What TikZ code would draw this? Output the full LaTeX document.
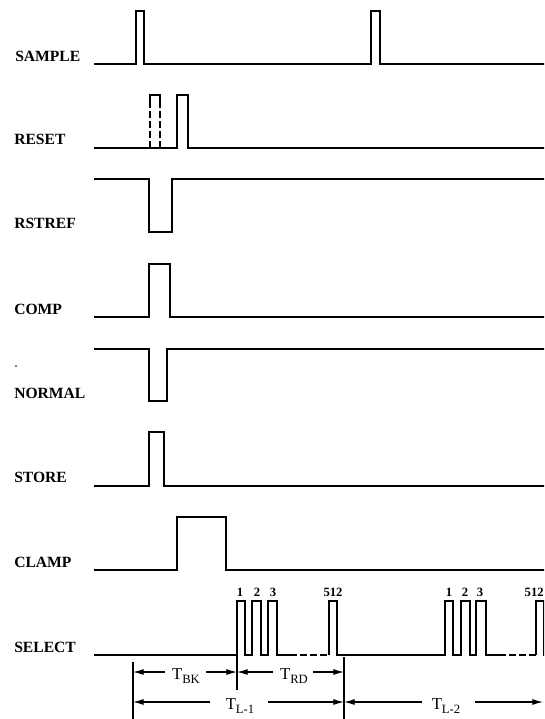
\documentclass[tikz,border=0pt]{standalone}
\usepackage{fontspec}
\setmainfont{Liberation Serif}
\usetikzlibrary{arrows.meta}
\newcommand\Tlab[2]{T\raisebox{-0.55ex}{\fontsize{9.5}{9}\selectfont #1}\ifx&#2&\else\raisebox{-0.55ex}{\fontsize{9.5}{9}\selectfont -#2}\fi}
\begin{document}
\begin{tikzpicture}[x=0.75pt,y=-0.75pt,
  wave/.style={line width=1.7pt,line join=miter,line cap=butt},
  dashwave/.style={line width=1.7pt,dash pattern=on 5pt off 2.5pt},
  lbl/.style={anchor=west,inner sep=0,font=\fontsize{11.7}{14}\selectfont\bfseries},
  num/.style={inner sep=0,font=\fontsize{9.5}{9}\selectfont\bfseries},
  dim/.style={line width=0.8pt},
  tip/.style={line width=0.9pt,-{Latex[length=8pt,width=4.5pt]}},
  tlab/.style={inner sep=0,font=\fontsize{12.5}{13}\selectfont}]
\useasboundingbox (0,0) rectangle (544,719);
\clip (0,0) rectangle (544,719);
% labels
\node[lbl] (lsample) at (15,56) {SAMPLE};
\node[lbl] (lreset)  at (14,139) {RESET};
\node[lbl] (lrstref) at (14,223) {RSTREF};
\node[lbl] (lcomp)   at (14,309) {COMP};
\node[lbl] (lnormal) at (14,393) {NORMAL};
\node[lbl] (lstore)  at (14,477) {STORE};
\node[lbl] (lclamp)  at (14,562) {CLAMP};
\node[lbl] (lselect) at (14,647) {SELECT};
\fill (16,366) circle (0.9);
% SAMPLE
\draw[wave] (94,64) -- (136,64) -- (136,11) -- (144,11) -- (144,64) -- (371,64) -- (371,11) -- (380,11) -- (380,64) -- (548,64);
% RESET
\draw[wave] (94,148) -- (177,148) -- (177,95) -- (188,95) -- (188,148) -- (548,148);
\draw[dashwave] (150,148) -- (150,97);
\draw[dashwave] (160,148) -- (160,97);
\draw[wave] (150,101) -- (150,95) -- (160,95) -- (160,101);
% RSTREF
\draw[wave] (94,179) -- (149,179) -- (149,232) -- (172,232) -- (172,179) -- (548,179);
% COMP
\draw[wave] (94,317) -- (149,317) -- (149,264) -- (170,264) -- (170,317) -- (548,317);
% NORMAL
\draw[wave] (94,349) -- (149,349) -- (149,401) -- (167,401) -- (167,349) -- (548,349);
% STORE
\draw[wave] (94,486) -- (149,486) -- (149,432) -- (164,432) -- (164,486) -- (548,486);
% CLAMP
\draw[wave] (94,570) -- (177,570) -- (177,517) -- (226,517) -- (226,570) -- (548,570);
% SELECT
\draw[wave] (94,655) -- (237,655) -- (237,601) -- (245,601) -- (245,655) -- (252,655) -- (252,601) -- (261,601) -- (261,655) -- (268,655) -- (268,601) -- (277,601) -- (277,655) -- (290,655);
\draw[dashwave] (290,655) -- (329,655);
\draw[wave] (329,655) -- (329,601) -- (337,601) -- (337,655) -- (445,655) -- (445,601) -- (453,601) -- (453,655) -- (461,655) -- (461,601) -- (470,601) -- (470,655) -- (476,655) -- (476,601) -- (486,601) -- (486,655) -- (499,655);
\draw[dashwave] (499,655) -- (536,655);
\draw[wave] (536,655) -- (536,601) -- (544,601) -- (544,655) -- (548,655);
\node[num] (n1a) at (240,592) {1};
\node[num] (n2a) at (257,592) {2};
\node[num] (n3a) at (273,592) {3};
\node[num] (n512a) at (333,592) {512};
\node[num] (n1b) at (449,592) {1};
\node[num] (n2b) at (465,592) {2};
\node[num] (n3b) at (480,592) {3};
\node[num,anchor=east] (n512b) at (544,592) {512};
% dimension lines
\coordinate (v1t) at (133,662); \coordinate (v1b) at (133,722);
\coordinate (v2t) at (237,655); \coordinate (v2b) at (237,690);
\coordinate (v3t) at (344,657); \coordinate (v3b) at (344,722);
\draw[dim] (v1t) -- (v1b);
\draw[dim] (v2t) -- (v2b);
\draw[dim] (v3t) -- (v3b);
\coordinate (bkL) at (133,672); \coordinate (bkR) at (237,672);
\coordinate (rdL) at (237,672); \coordinate (rdR) at (344,672);
\coordinate (l1L) at (133,702); \coordinate (l1R) at (344,702);
\coordinate (l2L) at (344,702); \coordinate (l2R) at (543,702);
\node[tlab] (tbk) at (186,676) {\Tlab{BK}{}};
\node[tlab] (trd) at (294,676) {\Tlab{RD}{}};
\node[tlab] (tl1) at (240,706) {\Tlab{L}{1}};
\node[tlab] (tl2) at (446,706) {\Tlab{L}{2}};
\draw[tip] (165,672) -- (bkL);
\draw[tip] (206,672) -- (bkR);
\draw[tip] (273,672) -- (rdL);
\draw[tip] (313,672) -- (rdR);
\draw[tip] (210,702) -- (l1L);
\draw[tip] (268,702) -- (l1R);
\draw[tip] (422,702) -- (l2L);
\draw[tip] (475,702) -- (l2R);
\end{tikzpicture}
\end{document}
